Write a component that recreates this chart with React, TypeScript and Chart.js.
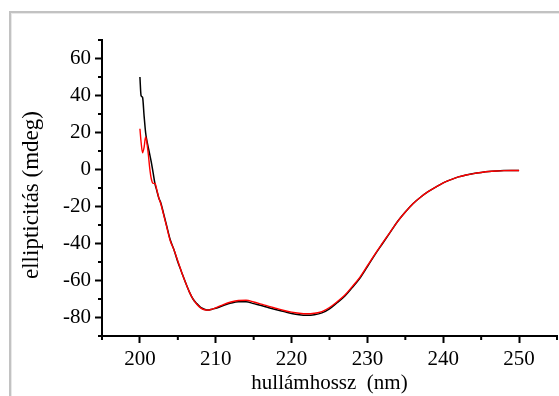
import React, { useEffect, useRef } from "react";
import { Chart, registerables } from "chart.js";
Chart.register(...registerables);

const wavelengthNm = [
  200, 200.15, 200.35, 200.55, 200.75, 200.9, 201.1, 201.3, 201.5, 201.75,
  202, 202.2, 202.5, 202.75, 203.1, 203.5, 204, 204.5, 205, 205.5,
  206, 206.5, 207, 207.5, 208, 208.5, 209, 209.5, 210, 211,
  212, 213, 214, 215, 216, 217, 218, 219, 220, 221,
  222, 223, 224, 225, 226, 227, 228, 229, 230, 231,
  232, 233, 234, 235, 236, 237, 238, 239, 240, 241,
  242, 243, 244, 245, 246, 247, 248, 249, 250,
];

const sampleBlack = [
  50, 40, 39, 29, 20, 16, 12, 8, 4, -2,
  -8, -11, -15.5, -18, -23.5, -30, -38, -43.5, -50, -55.5,
  -61, -66, -70, -72.5, -74.5, -75.5, -76, -75.5, -75, -73.5,
  -72.2, -71.5, -71.5, -72.5, -73.5, -74.7, -75.8, -76.8, -77.8, -78.5,
  -78.8, -78.5, -77.5, -75.3, -72, -68.5, -63.8, -58.8, -52.5, -46,
  -40, -34, -28, -23, -18.5, -15, -12, -9.5, -7.2, -5.5,
  -4, -3, -2.2, -1.6, -1.1, -0.8, -0.6, -0.5, -0.5,
];

const sampleRed = [
  22, 15, 9, 12, 17.6, 15, 8.5, 0.5, -5, -7.5,
  -7.5, -10.5, -15.5, -18.5, -24, -30.5, -38.5, -43.5, -49.5, -55.5,
  -61, -66, -70, -72.8, -74.8, -75.8, -76, -75.5, -74.8, -73,
  -71.6, -70.8, -70.7, -71.6, -72.8, -74, -75.1, -76.2, -77.1, -77.7,
  -78, -77.7, -76.8, -74.6, -71.5, -68, -63.3, -58.3, -52, -45.7,
  -39.7, -33.8, -28, -23, -18.5, -15, -12, -9.5, -7.2, -5.5,
  -4, -3, -2.2, -1.6, -1.1, -0.8, -0.6, -0.5, -0.5,
];

const xMajorTicks = [200, 210, 220, 230, 240, 250];
const xMinorTicks = [195, 205, 215, 225, 235, 245, 255];
const yMajorTicks = [-80, -60, -40, -20, 0, 20, 40, 60];
const yMinorTicks = [-90, -70, -50, -30, -10, 10, 30, 50, 70];
const xTitle = "hullámhossz  (nm)";
const yTitle = "ellipticitás (mdeg)";

const FONT = "'Liberation Serif', 'Times New Roman', serif";

const minorTickPlugin = {
  id: "minorTicks",
  afterDraw(chart: any) {
    const { ctx } = chart;
    const x = chart.scales.x;
    const y = chart.scales.y;
    ctx.save();
    ctx.strokeStyle = "#000";
    ctx.lineWidth = 2;
    ctx.beginPath();
    xMinorTicks.forEach((v) => {
      const px = x.getPixelForValue(v);
      ctx.moveTo(px, y.bottom);
      ctx.lineTo(px, y.bottom + 4);
    });
    yMinorTicks.forEach((v) => {
      const py = y.getPixelForValue(v);
      ctx.moveTo(x.left, py);
      ctx.lineTo(x.left - 4, py);
    });
    ctx.stroke();
    // y-axis title
    ctx.translate(32, 195);
    ctx.rotate(-Math.PI / 2);
    ctx.fillStyle = "#000";
    ctx.font = `23px ${FONT}`;
    ctx.textAlign = "center";
    ctx.textBaseline = "middle";
    ctx.fillText(yTitle, 0, 0);
    ctx.restore();
  },
};

export default function App() {
  const ref = useRef<HTMLCanvasElement | null>(null);

  useEffect(() => {
    if (!ref.current) return;
    const chart = new Chart(ref.current, {
      type: "line",
      data: {
        datasets: [
          {
            label: "red",
            data: wavelengthNm.map((w, i) => ({ x: w, y: sampleRed[i] })),
            borderColor: "#ff0000",
            borderWidth: 1.4,
            pointRadius: 0,
            cubicInterpolationMode: "monotone",
          },
          {
            label: "black",
            data: wavelengthNm.map((w, i) => ({ x: w, y: sampleBlack[i] })),
            borderColor: "#000000",
            borderWidth: 1.5,
            pointRadius: 0,
            cubicInterpolationMode: "monotone",
          },
        ],
      },
      options: {
        animation: false,
        responsive: false,
        layout: { padding: { top: 40, right: 2, left: 0, bottom: 0 } },
        plugins: { legend: { display: false }, tooltip: { enabled: false } },
        scales: {
          x: {
            type: "linear",
            min: 195,
            max: 255,
            afterBuildTicks: (scale: any) => {
              scale.ticks = xMajorTicks.map((v) => ({ value: v }));
            },
            afterFit: (scale: any) => {
              scale.height = 60;
            },
            border: { display: true, color: "#000", width: 2 },
            grid: {
              display: true,
              drawOnChartArea: false,
              drawTicks: true,
              tickLength: 7,
              tickWidth: 2,
              tickColor: "#000",
              color: "#000",
            },
            ticks: {
              color: "#000",
              padding: 4,
              font: { family: FONT, size: 21 },
              maxRotation: 0,
              callback: (v: any) => String(v),
            },
            title: {
              display: true,
              text: xTitle,
              color: "#000",
              font: { family: FONT, size: 21 },
              padding: { top: 0, bottom: 0 },
            },
          },
          y: {
            type: "linear",
            min: -90,
            max: 70,
            afterBuildTicks: (scale: any) => {
              scale.ticks = yMajorTicks.map((v) => ({ value: v }));
            },
            afterFit: (scale: any) => {
              scale.width = 102;
            },
            border: { display: true, color: "#000", width: 2 },
            grid: {
              display: true,
              drawOnChartArea: false,
              drawTicks: true,
              tickLength: 7,
              tickWidth: 2,
              tickColor: "#000",
              color: "#000",
            },
            ticks: {
              color: "#000",
              padding: 4,
              font: { family: FONT, size: 21 },
              callback: (v: any) => String(v),
            },
            title: { display: false },
          },
        },
      },
      plugins: [minorTickPlugin],
    } as any);
    return () => chart.destroy();
  }, []);

  return (
    <div style={{ position: "fixed", left: 0, top: 0, width: 559, height: 396, background: "#fff", overflow: "hidden" }}>
      <div
        style={{
          position: "absolute",
          left: 9,
          top: 11,
          width: 700,
          height: 600,
          borderTop: "2px solid #c2c2c2",
          borderLeft: "2px solid #c2c2c2",
          boxShadow: "inset 1px 1px 0 #e8e8e8",
        }}
      />
      <canvas ref={ref} width={559} height={396} style={{ position: "absolute", left: 0, top: 0, width: 559, height: 396 }} />
    </div>
  );
}
